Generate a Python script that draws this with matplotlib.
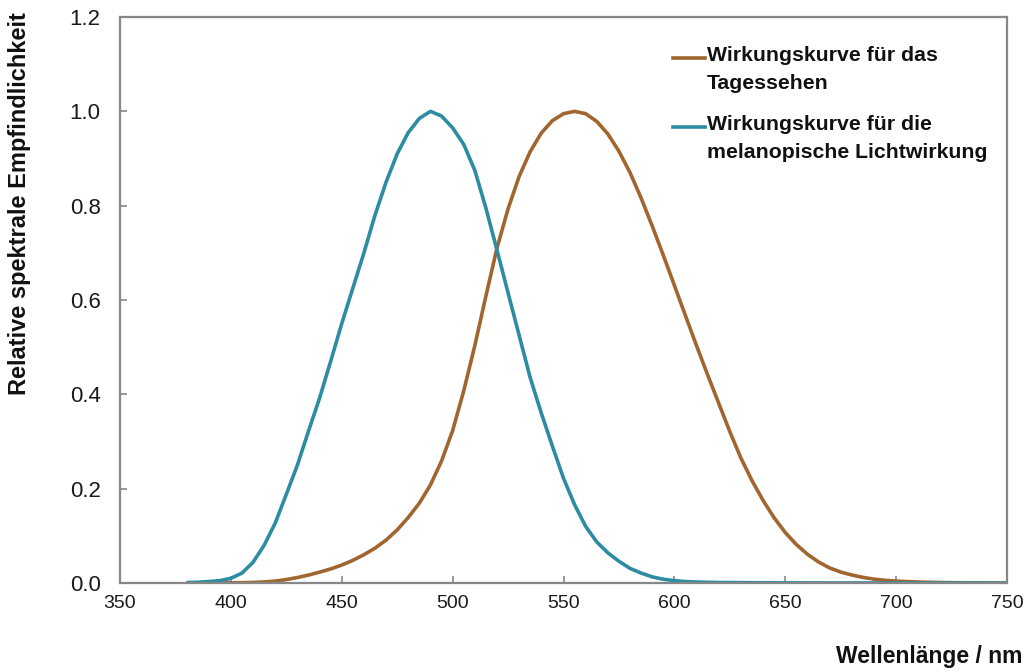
import matplotlib
matplotlib.use("Agg")
import matplotlib.pyplot as plt
from matplotlib.lines import Line2D

# Wavelength grid (nm)
wavelength = list(range(380, 755, 5))

# Photopic luminous efficiency V(lambda)
v_tag = [0.000039, 0.000064, 0.00012, 0.000217, 0.000396, 0.00064, 0.00121, 0.00218,
         0.004, 0.0073, 0.0116, 0.01684, 0.023, 0.0298, 0.038, 0.048, 0.06, 0.0739,
         0.09098, 0.1126, 0.13902, 0.1693, 0.20802, 0.2586, 0.323, 0.4073, 0.503,
         0.6082, 0.71, 0.7932, 0.862, 0.91485, 0.954, 0.9803, 0.99495, 1.0, 0.995,
         0.9786, 0.952, 0.9154, 0.87, 0.8163, 0.757, 0.6949, 0.631, 0.5668, 0.503,
         0.4412, 0.381, 0.321, 0.265, 0.217, 0.175, 0.1382, 0.107, 0.0816, 0.061,
         0.04458, 0.032, 0.0232, 0.017, 0.01192, 0.00821, 0.005723, 0.004102,
         0.002929, 0.002091, 0.001484, 0.001047, 0.00074, 0.00052, 0.000361,
         0.000249, 0.000172, 0.00012]

# Melanopic action spectrum
s_mel = [0.001, 0.0015, 0.003, 0.005, 0.01, 0.021, 0.044, 0.08, 0.127, 0.188,
         0.25, 0.322, 0.392, 0.47, 0.55, 0.625, 0.70, 0.78, 0.85, 0.91, 0.955,
         0.985, 1.0, 0.99, 0.965, 0.93, 0.875, 0.795, 0.706, 0.615, 0.525, 0.435,
         0.36, 0.29, 0.222, 0.166, 0.12, 0.087, 0.064, 0.046, 0.031, 0.021, 0.013,
         0.008, 0.005, 0.003, 0.002, 0.0015, 0.001, 0.001, 0.0008, 0.0006, 0.0005,
         0.0004, 0.0003, 0.0003, 0.0002, 0.0002, 0.0001, 0.0001, 0.0001, 0.0001,
         0.0001, 0.0, 0.0, 0.0, 0.0, 0.0, 0.0, 0.0, 0.0, 0.0, 0.0, 0.0, 0.0]

labels = ["Wirkungskurve für das\nTagessehen",
          "Wirkungskurve für die\nmelanopische Lichtwirkung"]
colors = ["#A1662F", "#2D8CA1"]

x_ticks = [350, 400, 450, 500, 550, 600, 650, 700, 750]
y_ticks = [0.0, 0.2, 0.4, 0.6, 0.8, 1.0, 1.2]

plt.rcParams["font.family"] = ["Liberation Sans", "DejaVu Sans"]

fig = plt.figure(figsize=(10.32, 6.72), dpi=100)
ax = fig.add_axes([120 / 1032, 89 / 672, 887 / 1032, 566 / 672])

ax.plot(wavelength, v_tag, color=colors[0], lw=2.6, solid_capstyle="butt")
ax.plot(wavelength, s_mel, color=colors[1], lw=2.6, solid_capstyle="butt")

ax.set_xlim(350, 750)
ax.set_ylim(0, 1.2)
ax.set_xticks(x_ticks)
ax.set_yticks(y_ticks)
ax.set_yticklabels([f"{v:.1f}" for v in y_ticks])

frame = "#878787"
for sp in ax.spines.values():
    sp.set_color(frame)
    sp.set_linewidth(1.6)
ax.tick_params(direction="in", length=5, width=1.2, color=frame, labelcolor="#1a1a1a")
ax.tick_params(axis="y", labelsize=16, pad=14)
ax.tick_params(axis="x", labelsize=14, pad=9)

# Axis titles
fig.text(1022 / 1032, 1 - 656 / 672, "Wellenlänge / nm", ha="right", va="center",
         fontsize=16.5, fontweight="bold", color="#111111")
fig.text(20 / 1032, 1 - 204 / 672, "Relative spektrale Empfindlichkeit", rotation=90,
         ha="center", va="center", fontsize=17, fontweight="bold", color="#111111")

# Legend entries drawn beside the curves
legend_y = [1 - 58 / 672, 1 - 127 / 672]
for lab, col, yy in zip(labels, colors, legend_y):
    fig.add_artist(Line2D([673 / 1032, 705 / 1032], [yy, yy], color=col, lw=2.6,
                          transform=fig.transFigure))
    fig.text(707 / 1032, yy + 12 / 672, lab, ha="left", va="top", fontsize=15.3,
             fontweight="bold", color="#111111", linespacing=1.6)

fig.savefig("out.png", dpi=100, facecolor="white")
